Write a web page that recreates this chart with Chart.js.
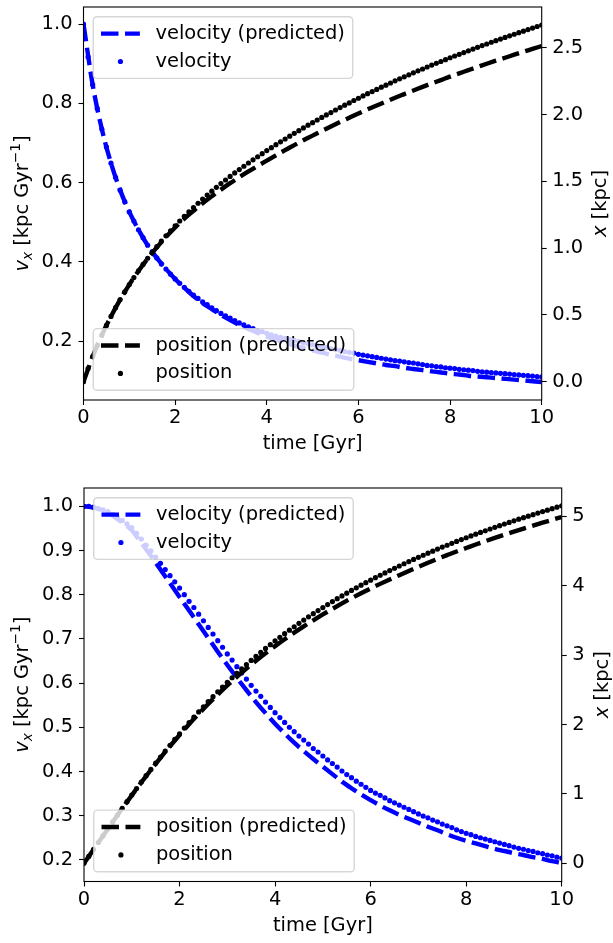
<!DOCTYPE html>
<html lang="en">

<head>
  <meta charset="UTF-8" />
  <title>velocity and position vs time</title>
  <script src="https://cdn.jsdelivr.net/npm/chart.js@4"></script>
  <style>
    body { margin: 0; background: #ffffff; }
    #wrap { position: relative; width: 613px; height: 943px; }
    canvas { position: absolute; left: 0; }
    #painelTopo { top: 0; }
    #painelBaixo { top: 470px; }
  </style>
</head>

<body>
  <div id="wrap">
    <canvas id="painelTopo" width="613" height="470"></canvas>
    <canvas id="painelBaixo" width="613" height="473"></canvas>
  </div>

  <script>
    // sample times of the simulated points (dots) and of the predicted curves (dashes)
    var dotTime = [
      0, 0.1, 0.2, 0.3, 0.4, 0.5, 0.6, 0.7, 0.8, 0.9,
      1, 1.1, 1.2, 1.3, 1.4, 1.5, 1.6, 1.7, 1.8, 1.9,
      2, 2.1, 2.2, 2.3, 2.4, 2.5, 2.6, 2.7, 2.8, 2.9,
      3, 3.1, 3.2, 3.3, 3.4, 3.5, 3.6, 3.7, 3.8, 3.9,
      4, 4.1, 4.2, 4.3, 4.4, 4.5, 4.6, 4.7, 4.8, 4.9,
      5, 5.1, 5.2, 5.3, 5.4, 5.5, 5.6, 5.7, 5.8, 5.9,
      6, 6.1, 6.2, 6.3, 6.4, 6.5, 6.6, 6.7, 6.8, 6.9,
      7, 7.1, 7.2, 7.3, 7.4, 7.5, 7.6, 7.7, 7.8, 7.9,
      8, 8.1, 8.2, 8.3, 8.4, 8.5, 8.6, 8.7, 8.8, 8.9,
      9, 9.1, 9.2, 9.3, 9.4, 9.5, 9.6, 9.7, 9.8, 9.9,
      10
    ];
    var predTime = [
      0, 0.2, 0.4, 0.6, 0.8, 1, 1.2, 1.4, 1.6, 1.8,
      2, 2.2, 2.4, 2.6, 2.8, 3, 3.2, 3.4, 3.6, 3.8,
      4, 4.2, 4.4, 4.6, 4.8, 5, 5.2, 5.4, 5.6, 5.8,
      6, 6.2, 6.4, 6.6, 6.8, 7, 7.2, 7.4, 7.6, 7.8,
      8, 8.2, 8.4, 8.6, 8.8, 9, 9.2, 9.4, 9.6, 9.8,
      10
    ];

    // top panel
    var velTopo = [
      1.000, 0.917, 0.847, 0.787, 0.735, 0.690, 0.649, 0.613, 0.581, 0.552,
      0.526, 0.503, 0.481, 0.461, 0.442, 0.426, 0.410, 0.395, 0.382, 0.369,
      0.357, 0.346, 0.336, 0.326, 0.316, 0.308, 0.299, 0.292, 0.284, 0.277,
      0.270, 0.264, 0.258, 0.252, 0.246, 0.241, 0.236, 0.232, 0.227, 0.224,
      0.220, 0.216, 0.213, 0.210, 0.207, 0.204, 0.202, 0.199, 0.196, 0.194,
      0.191, 0.189, 0.186, 0.184, 0.181, 0.179, 0.177, 0.174, 0.172, 0.170,
      0.167, 0.165, 0.163, 0.161, 0.159, 0.157, 0.155, 0.153, 0.151, 0.150,
      0.148, 0.146, 0.145, 0.143, 0.141, 0.139, 0.138, 0.136, 0.135, 0.133,
      0.132, 0.131, 0.129, 0.128, 0.127, 0.126, 0.124, 0.123, 0.122, 0.121,
      0.120, 0.119, 0.118, 0.117, 0.116, 0.115, 0.114, 0.113, 0.112, 0.111,
      0.110
    ];
    var velTopoPred = [
      1.000, 0.847, 0.735, 0.649, 0.581, 0.526, 0.481, 0.442, 0.410, 0.382,
      0.357, 0.335, 0.314, 0.296, 0.281, 0.266, 0.253, 0.241, 0.231, 0.221,
      0.212, 0.204, 0.196, 0.189, 0.183, 0.177, 0.171, 0.166, 0.161, 0.156,
      0.152, 0.148, 0.144, 0.140, 0.137, 0.133, 0.130, 0.127, 0.124, 0.121,
      0.118, 0.116, 0.113, 0.111, 0.109, 0.107, 0.105, 0.103, 0.101, 0.099,
      0.097
    ];
    var posTopo = [
      0, 0.098, 0.188, 0.271, 0.348, 0.421, 0.489, 0.554, 0.615, 0.672,
      0.727, 0.780, 0.830, 0.878, 0.924, 0.968, 1.011, 1.052, 1.092, 1.130,
      1.167, 1.203, 1.238, 1.271, 1.304, 1.336, 1.367, 1.397, 1.426, 1.455,
      1.483, 1.510, 1.537, 1.563, 1.588, 1.613, 1.637, 1.661, 1.684, 1.707,
      1.730, 1.752, 1.774, 1.796, 1.817, 1.838, 1.859, 1.879, 1.900, 1.920,
      1.939, 1.959, 1.978, 1.997, 2.015, 2.034, 2.052, 2.070, 2.087, 2.105,
      2.122, 2.139, 2.156, 2.172, 2.188, 2.205, 2.220, 2.236, 2.252, 2.267,
      2.282, 2.297, 2.312, 2.327, 2.341, 2.356, 2.370, 2.384, 2.397, 2.411,
      2.425, 2.438, 2.451, 2.464, 2.477, 2.490, 2.503, 2.516, 2.528, 2.541,
      2.553, 2.565, 2.577, 2.589, 2.601, 2.613, 2.624, 2.636, 2.647, 2.659,
      2.670
    ];
    var posTopoPred = [
      0, 0.188, 0.348, 0.489, 0.615, 0.727, 0.829, 0.921, 1.005, 1.083,
      1.154, 1.220, 1.279, 1.336, 1.388, 1.438, 1.486, 1.531, 1.574, 1.615,
      1.655, 1.695, 1.734, 1.771, 1.808, 1.842, 1.877, 1.911, 1.944, 1.976,
      2.008, 2.039, 2.068, 2.097, 2.126, 2.153, 2.180, 2.207, 2.233, 2.258,
      2.284, 2.308, 2.332, 2.356, 2.380, 2.403, 2.425, 2.448, 2.470, 2.491,
      2.513
    ];

    // bottom panel
    var velBaixo = [
      1.000, 1.000, 0.998, 0.995, 0.992, 0.988, 0.982, 0.975, 0.968, 0.960,
      0.952, 0.939, 0.926, 0.912, 0.899, 0.885, 0.871, 0.857, 0.843, 0.829,
      0.815, 0.800, 0.785, 0.771, 0.756, 0.741, 0.726, 0.711, 0.696, 0.681,
      0.666, 0.652, 0.637, 0.623, 0.609, 0.595, 0.582, 0.570, 0.557, 0.545,
      0.533, 0.522, 0.511, 0.500, 0.490, 0.480, 0.471, 0.462, 0.452, 0.444,
      0.435, 0.426, 0.418, 0.410, 0.401, 0.393, 0.386, 0.378, 0.371, 0.364,
      0.357, 0.351, 0.346, 0.340, 0.334, 0.329, 0.324, 0.319, 0.314, 0.309,
      0.304, 0.299, 0.295, 0.290, 0.286, 0.281, 0.277, 0.273, 0.268, 0.264,
      0.260, 0.257, 0.253, 0.250, 0.247, 0.244, 0.241, 0.238, 0.235, 0.232,
      0.229, 0.226, 0.224, 0.221, 0.219, 0.216, 0.214, 0.211, 0.209, 0.206,
      0.204
    ];
    var velBaixoPred = [
      1.000, 0.997, 0.990, 0.979, 0.963, 0.946, 0.917, 0.888, 0.857, 0.826,
      0.795, 0.764, 0.733, 0.702, 0.671, 0.641, 0.612, 0.584, 0.557, 0.532,
      0.508, 0.486, 0.465, 0.446, 0.428, 0.411, 0.394, 0.377, 0.362, 0.348,
      0.335, 0.323, 0.312, 0.302, 0.293, 0.284, 0.275, 0.267, 0.258, 0.250,
      0.243, 0.237, 0.231, 0.225, 0.220, 0.215, 0.211, 0.206, 0.202, 0.197,
      0.193
    ];
    var posBaixo = [
      0, 0.100, 0.200, 0.300, 0.399, 0.498, 0.597, 0.694, 0.792, 0.888,
      0.984, 1.078, 1.171, 1.263, 1.354, 1.443, 1.531, 1.617, 1.702, 1.786,
      1.868, 1.949, 2.028, 2.106, 2.182, 2.257, 2.330, 2.402, 2.473, 2.541,
      2.609, 2.675, 2.739, 2.802, 2.864, 2.924, 2.983, 3.040, 3.097, 3.152,
      3.206, 3.258, 3.310, 3.361, 3.410, 3.459, 3.506, 3.553, 3.599, 3.643,
      3.687, 3.730, 3.773, 3.814, 3.855, 3.894, 3.933, 3.971, 4.009, 4.046,
      4.082, 4.117, 4.152, 4.186, 4.220, 4.253, 4.286, 4.318, 4.349, 4.381,
      4.411, 4.441, 4.471, 4.500, 4.529, 4.558, 4.585, 4.613, 4.640, 4.667,
      4.693, 4.719, 4.744, 4.769, 4.794, 4.819, 4.843, 4.867, 4.891, 4.914,
      4.937, 4.960, 4.982, 5.004, 5.026, 5.048, 5.070, 5.091, 5.112, 5.133,
      5.153
    ];
    var posBaixoPred = [
      0, 0.200, 0.399, 0.596, 0.790, 0.980, 1.166, 1.346, 1.520, 1.688,
      1.850, 2.005, 2.154, 2.297, 2.433, 2.564, 2.688, 2.807, 2.920, 3.028,
      3.131, 3.230, 3.325, 3.416, 3.503, 3.587, 3.668, 3.746, 3.821, 3.893,
      3.962, 4.028, 4.092, 4.154, 4.215, 4.274, 4.332, 4.388, 4.442, 4.495,
      4.545, 4.595, 4.643, 4.690, 4.736, 4.781, 4.825, 4.868, 4.910, 4.951,
      4.991
    ];

    // tick labels
    var timeTicks = [0, 2, 4, 6, 8, 10];
    var velTicksTopo = [0.2, 0.4, 0.6, 0.8, 1.0];
    var posTicksTopo = [0.0, 0.5, 1.0, 1.5, 2.0, 2.5];
    var velTicksBaixo = [0.2, 0.3, 0.4, 0.5, 0.6, 0.7, 0.8, 0.9, 1.0];
    var posTicksBaixo = [0, 1, 2, 3, 4, 5];

    var FONTE = "DejaVu Sans";
    var FS = 19.44;
    var AZUL = "#0000ff";
    var PRETO = "#000000";
    var TRACO = [17.5, 6.5];
    var LARGURA = 4.4;
    var RAIO = 2.6;

    function pontos(ts, vs) {
      return ts.map(function (t, i) {
        return { x: t, y: vs[i] };
      });
    }

    function fixarTicks(valores) {
      return function (scale) {
        scale.ticks = valores.map(function (v) {
          return { value: v };
        });
      };
    }

    function fixarTamanho(prop, tamanho) {
      return function (scale) {
        scale[prop] = tamanho;
        scale.paddingTop = 0;
        scale.paddingBottom = 0;
        scale.paddingLeft = 0;
        scale.paddingRight = 0;
      };
    }

    function fonte(r) {
      var size = FS * (r.escala || 1);
      return (r.italico ? "italic " : "") + size + "px '" + FONTE + "'";
    }

    // text made of several runs (italic letters, sub and superscripts)
    function textoRico(ctx, runs, cx, cy, angulo) {
      var total = 0;
      runs.forEach(function (r) {
        ctx.font = fonte(r);
        r.w = ctx.measureText(r.t).width;
        total += r.w;
      });
      ctx.save();
      ctx.translate(cx, cy);
      ctx.rotate(angulo);
      ctx.textAlign = "left";
      ctx.textBaseline = "alphabetic";
      ctx.fillStyle = PRETO;
      var x = -total / 2;
      var base = 0.3 * FS;
      runs.forEach(function (r) {
        ctx.font = fonte(r);
        ctx.fillText(r.t, x, base + (r.dy || 0) * FS);
        x += r.w;
      });
      ctx.restore();
    }

    function caixaArredondada(ctx, x, y, w, h, r) {
      ctx.beginPath();
      ctx.moveTo(x + r, y);
      ctx.lineTo(x + w - r, y);
      ctx.arcTo(x + w, y, x + w, y + r, r);
      ctx.lineTo(x + w, y + h - r);
      ctx.arcTo(x + w, y + h, x + w - r, y + h, r);
      ctx.lineTo(x + r, y + h);
      ctx.arcTo(x, y + h, x, y + h - r, r);
      ctx.lineTo(x, y + r);
      ctx.arcTo(x, y, x + r, y, r);
      ctx.closePath();
    }

    function desenharLegenda(ctx, area, lg) {
      var pad = 0.4 * FS, margem = 0.5 * FS, alca = 2 * FS, espacoTexto = 0.8 * FS;
      var espaco = 0.5 * FS, linha = 18.2;
      ctx.font = FS + "px '" + FONTE + "'";
      var larguraTexto = 0;
      lg.itens.forEach(function (it) {
        larguraTexto = Math.max(larguraTexto, ctx.measureText(it.label).width);
      });
      var w = pad + alca + espacoTexto + larguraTexto + pad;
      var h = 2 * pad + lg.itens.length * linha + (lg.itens.length - 1) * espaco;
      var left = area.left + margem;
      var top = lg.canto == "cima" ? area.top + margem : area.bottom - margem - h;

      caixaArredondada(ctx, left, top, w, h, 0.2 * FS);
      ctx.fillStyle = "rgba(255,255,255,0.8)";
      ctx.fill();
      ctx.strokeStyle = "rgba(204,204,204,0.8)";
      ctx.lineWidth = 1.39;
      ctx.stroke();

      lg.itens.forEach(function (it, i) {
        var y = top + pad + linha / 2 + i * (linha + espaco);
        if (it.tipo == "traco") {
          ctx.save();
          ctx.strokeStyle = it.cor;
          ctx.lineWidth = LARGURA;
          ctx.setLineDash(TRACO);
          ctx.beginPath();
          ctx.moveTo(left + pad, y);
          ctx.lineTo(left + pad + alca, y);
          ctx.stroke();
          ctx.restore();
        } else {
          ctx.fillStyle = it.cor;
          ctx.beginPath();
          ctx.arc(left + pad + alca / 2, y, RAIO, 0, Math.PI * 2);
          ctx.fill();
        }
        ctx.fillStyle = PRETO;
        ctx.font = FS + "px '" + FONTE + "'";
        ctx.textAlign = "left";
        ctx.textBaseline = "middle";
        ctx.fillText(it.label, left + pad + alca + espacoTexto, y);
      });
    }

    var tituloVel = [
      { t: "v", italico: true },
      { t: "x", italico: true, escala: 0.7, dy: 0.2 },
      { t: " [kpc Gyr" },
      { t: "\u22121", escala: 0.7, dy: -0.42 },
      { t: "]" }
    ];
    var tituloPos = [
      { t: "x", italico: true },
      { t: " [kpc]" }
    ];

    var decoracao = {
      id: "decoracao",
      afterDatasetsDraw: function (chart, args, o) {
        var ctx = chart.ctx;
        var a = chart.chartArea;
        ctx.save();
        ctx.strokeStyle = PRETO;
        ctx.lineWidth = 1.1;
        ctx.setLineDash([]);
        ctx.strokeRect(a.left, a.top, a.right - a.left, a.bottom - a.top);

        o.legendas.forEach(function (lg) {
          desenharLegenda(ctx, a, lg);
        });

        var meioY = (a.top + a.bottom) / 2;
        ctx.fillStyle = PRETO;
        ctx.font = FS + "px '" + FONTE + "'";
        ctx.textAlign = "center";
        ctx.textBaseline = "middle";
        ctx.fillText("time [Gyr]", (a.left + a.right) / 2, o.xTituloY);
        textoRico(ctx, tituloVel, o.esqTituloX, meioY, -Math.PI / 2);
        textoRico(ctx, tituloPos, o.dirTituloX, meioY, -Math.PI / 2);
        ctx.restore();
      }
    };

    var legendasPadrao = [
      {
        canto: "cima",
        itens: [
          { label: "velocity (predicted)", tipo: "traco", cor: AZUL },
          { label: "velocity", tipo: "ponto", cor: AZUL }
        ]
      },
      {
        canto: "baixo",
        itens: [
          { label: "position (predicted)", tipo: "traco", cor: PRETO },
          { label: "position", tipo: "ponto", cor: PRETO }
        ]
      }
    ];

    function eixoTicks(cor) {
      return {
        display: true,
        drawOnChartArea: false,
        drawTicks: true,
        tickLength: 5,
        tickWidth: 1.1,
        tickColor: cor
      };
    }

    function criarPainel(canvas, c) {
      return new Chart(canvas, {
        type: "line",
        data: {
          datasets: [
            {
              label: "velocity (predicted)",
              data: pontos(predTime, c.velPred),
              yAxisID: "y",
              borderColor: AZUL,
              borderWidth: LARGURA,
              borderDash: TRACO,
              pointRadius: 0,
              fill: false,
              cubicInterpolationMode: "monotone",
              order: 4
            },
            {
              label: "velocity",
              data: pontos(dotTime, c.vel),
              yAxisID: "y",
              showLine: false,
              pointRadius: RAIO,
              pointBackgroundColor: AZUL,
              pointBorderWidth: 0,
              order: 3
            },
            {
              label: "position (predicted)",
              data: pontos(predTime, c.posPred),
              yAxisID: "y2",
              borderColor: PRETO,
              borderWidth: LARGURA,
              borderDash: TRACO,
              pointRadius: 0,
              fill: false,
              cubicInterpolationMode: "monotone",
              order: 2
            },
            {
              label: "position",
              data: pontos(dotTime, c.pos),
              yAxisID: "y2",
              showLine: false,
              pointRadius: RAIO,
              pointBackgroundColor: PRETO,
              pointBorderWidth: 0,
              order: 1
            }
          ]
        },
        options: {
          responsive: false,
          animation: false,
          devicePixelRatio: 1,
          events: [],
          layout: {
            autoPadding: false,
            padding: { top: c.topo, left: 0, right: 0, bottom: 0 }
          },
          plugins: {
            legend: { display: false },
            tooltip: { enabled: false },
            decoracao: {
              legendas: legendasPadrao,
              xTituloY: c.xTituloY,
              esqTituloX: c.esqTituloX,
              dirTituloX: c.dirTituloX
            }
          },
          scales: {
            x: {
              type: "linear",
              min: 0,
              max: 10,
              afterBuildTicks: fixarTicks(timeTicks),
              afterFit: fixarTamanho("height", c.alturaX),
              grid: eixoTicks(PRETO),
              border: { display: false },
              ticks: {
                padding: 1.5,
                color: PRETO,
                font: { family: FONTE, size: FS },
                maxRotation: 0,
                callback: function (v) {
                  return String(v);
                }
              }
            },
            y: {
              position: "left",
              min: c.velMin,
              max: c.velMax,
              afterBuildTicks: fixarTicks(c.velTicks),
              afterFit: fixarTamanho("width", c.larguraEsq),
              grid: eixoTicks(PRETO),
              border: { display: false },
              ticks: {
                padding: 6,
                color: PRETO,
                font: { family: FONTE, size: FS },
                callback: function (v) {
                  return v.toFixed(1);
                }
              }
            },
            y2: {
              position: "right",
              min: c.posMin,
              max: c.posMax,
              afterBuildTicks: fixarTicks(c.posTicks),
              afterFit: fixarTamanho("width", c.larguraDir),
              grid: eixoTicks(PRETO),
              border: { display: false },
              ticks: {
                padding: 5.5,
                color: PRETO,
                font: { family: FONTE, size: FS },
                callback: function (v) {
                  return c.posDecimal ? v.toFixed(1) : String(v);
                }
              }
            }
          }
        },
        plugins: [decoracao]
      });
    }

    criarPainel(document.getElementById("painelTopo"), {
      vel: velTopo,
      velPred: velTopoPred,
      pos: posTopo,
      posPred: posTopoPred,
      velTicks: velTicksTopo,
      posTicks: posTicksTopo,
      velMin: 0.0517,
      velMax: 1.0429,
      posMin: -0.137,
      posMax: 2.805,
      posDecimal: true,
      topo: 7,
      alturaX: 70,
      larguraEsq: 83.5,
      larguraDir: 71.3,
      xTituloY: 443.5,
      esqTituloX: 22.5,
      dirTituloX: 600
    });

    criarPainel(document.getElementById("painelBaixo"), {
      vel: velBaixo,
      velPred: velBaixoPred,
      pos: posBaixo,
      posPred: posBaixoPred,
      velTicks: velTicksBaixo,
      posTicks: posTicksBaixo,
      velMin: 0.151,
      velMax: 1.0414,
      posMin: -0.262,
      posMax: 5.41,
      posDecimal: false,
      topo: 18,
      alturaX: 61.5,
      larguraEsq: 84,
      larguraDir: 51.3,
      xTituloY: 456,
      esqTituloX: 22.5,
      dirTituloX: 602
    });
  </script>
</body>

</html>
